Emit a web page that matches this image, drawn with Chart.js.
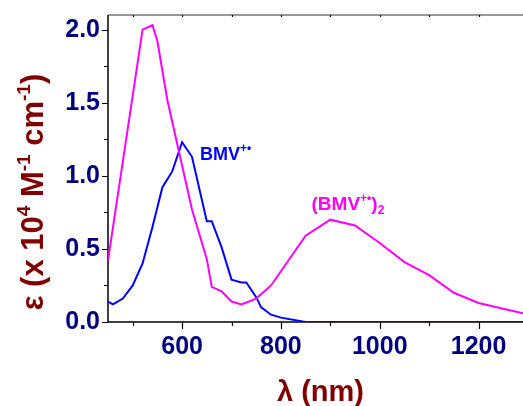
<!DOCTYPE html>
<html>
<head>
<meta charset="utf-8">
<script src="https://cdn.jsdelivr.net/npm/chart.js@4/dist/chart.umd.min.js"></script>
<style>
html,body{margin:0;padding:0;background:#fff;}
canvas{display:block;}
</style>
</head>
<body>
<canvas id="c" width="523" height="406"></canvas>
<script>
// ---- data ----
const monomerWavelength = [450,460,480,500,520,540,560,580,600,620,650,660,680,700,720,730,750,760,780,800,850,1290];
const monomerEps        = [0.14,0.12,0.16,0.25,0.40,0.65,0.92,1.03,1.23,1.13,0.69,0.69,0.51,0.29,0.27,0.27,0.17,0.10,0.05,0.03,0.0,0.0];
const dimerWavelength   = [450,520,540,550,570,620,650,660,680,700,720,750,780,850,900,950,1000,1050,1100,1150,1200,1250,1290];
const dimerEps          = [0.42,2.00,2.03,1.92,1.52,0.77,0.43,0.24,0.21,0.14,0.12,0.16,0.25,0.59,0.70,0.66,0.54,0.41,0.32,0.20,0.13,0.09,0.06];
const xTickLabels = [600,800,1000,1200];
const xMinorTicks = [500,700,900,1100];
const yTickLabels = [0,0.5,1.0,1.5,2.0];
const yMinorTicks = [0.25,0.75,1.25,1.75];
const xRange = [450,1290];
const yRange = [0,2.1];

const MAGENTA = '#ff00ff', BLUE = '#0000ff', NAVY = '#000080', DARKRED = '#800000';
const FONT = '"Liberation Sans", Arial, sans-serif';

function pts(xs, ys){ return xs.map((x,i)=>({x:x, y:ys[i]})); }

function drawRich(ctx, segs, x, y){
  let cx = x;
  for (const s of segs){
    ctx.font = 'bold ' + s.size + 'px ' + FONT;
    ctx.fillText(s.t, cx, y + (s.dy||0));
    cx += ctx.measureText(s.t).width;
  }
  return cx - x;
}
function richWidth(ctx, segs){
  let w = 0;
  for (const s of segs){ ctx.font = 'bold ' + s.size + 'px ' + FONT; w += ctx.measureText(s.t).width; }
  return w;
}

const axesPlugin = {
  id: 'axesPlugin',
  beforeDatasetsDraw(chart){
    const ctx = chart.ctx, a = chart.chartArea, xs = chart.scales.x, ys = chart.scales.y;
    ctx.save();
    ctx.strokeStyle = '#000'; ctx.lineWidth = 1.5;
    ctx.beginPath();
    ctx.moveTo(a.left, a.top); ctx.lineTo(a.left, a.bottom); ctx.lineTo(a.right, a.bottom);
    ctx.stroke();
    ctx.strokeStyle = '#333'; ctx.lineWidth = 1.2;
    ctx.beginPath(); ctx.moveTo(a.left, a.top); ctx.lineTo(a.right, a.top); ctx.stroke();
    ctx.lineWidth = 1.2; ctx.strokeStyle = '#000';
    ctx.beginPath();
    xTickLabels.forEach(v=>{ const p = Math.round(xs.getPixelForValue(v))+0.5; ctx.moveTo(p,a.bottom); ctx.lineTo(p,a.bottom+7); ctx.moveTo(p,a.top); ctx.lineTo(p,a.top+2);});
    xMinorTicks.forEach(v=>{ const p = Math.round(xs.getPixelForValue(v))+0.5; ctx.moveTo(p,a.bottom); ctx.lineTo(p,a.bottom+4); ctx.moveTo(p,a.top); ctx.lineTo(p,a.top+2);});
    yTickLabels.forEach(v=>{ const p = Math.round(ys.getPixelForValue(v))+0.5; ctx.moveTo(a.left,p); ctx.lineTo(a.left-6,p);});
    yMinorTicks.forEach(v=>{ const p = Math.round(ys.getPixelForValue(v))+0.5; ctx.moveTo(a.left,p); ctx.lineTo(a.left-4,p);});
    ctx.stroke();
    ctx.restore();
  },
  afterDraw(chart){
    const ctx = chart.ctx, a = chart.chartArea, xs = chart.scales.x, ys = chart.scales.y;
    ctx.save();
    ctx.textBaseline = 'alphabetic';
    // series labels
    ctx.fillStyle = BLUE;
    drawRich(ctx, [{t:'BMV', size:18},{t:'+•', size:12, dy:-8}], xs.getPixelForValue(636), ys.getPixelForValue(1.11));
    ctx.fillStyle = MAGENTA;
    drawRich(ctx, [{t:'(BMV', size:19},{t:'+•', size:12, dy:-8},{t:')', size:19},{t:'2', size:12, dy:4}], xs.getPixelForValue(862), ys.getPixelForValue(0.767));
    // x title
    ctx.fillStyle = DARKRED;
    const xt = [{t:'λ (nm)', size:29}];
    const xw = richWidth(ctx, xt);
    drawRich(ctx, xt, (a.left + a.right)/2 - xw/2 + 5, 401);
    // y title
    const yt = [{t:'ε (x 10', size:31},{t:'4', size:19, dy:-13},{t:' M', size:31},{t:'-1', size:19, dy:-13},{t:' cm', size:31},{t:'-1', size:19, dy:-13},{t:')', size:31}];
    const yw = richWidth(ctx, yt);
    ctx.translate(43, 192);
    ctx.rotate(-Math.PI/2);
    drawRich(ctx, yt, -yw/2, 0);
    ctx.restore();
  }
};

new Chart(document.getElementById('c'), {
  type: 'line',
  data: {
    datasets: [
      { label: '(BMV+•)2', data: pts(dimerWavelength, dimerEps), borderColor: MAGENTA, borderWidth: 2, pointRadius: 0, tension: 0, fill: false },
      { label: 'BMV+•', data: pts(monomerWavelength, monomerEps), borderColor: BLUE, borderWidth: 2, pointRadius: 0, tension: 0, fill: false }
    ]
  },
  options: {
    responsive: false,
    devicePixelRatio: 1,
    animation: false,
    layout: { padding: { top: 15, right: 0, bottom: 0, left: 0 } },
    plugins: { legend: { display: false }, tooltip: { enabled: false } },
    scales: {
      x: {
        type: 'linear', min: xRange[0], max: xRange[1],
        grid: { display: false, drawTicks: false }, border: { display: false },
        afterBuildTicks: s => { s.ticks = xTickLabels.map(v => ({ value: v })); },
        afterFit: s => { s.height = 84; s.paddingLeft = 0; s.paddingRight = 0; },
        ticks: { color: NAVY, font: { family: FONT, size: 25, weight: 'bold' }, padding: 10, maxRotation: 0, callback: v => String(v) }
      },
      y: {
        type: 'linear', min: yRange[0], max: yRange[1],
        grid: { display: false, drawTicks: false }, border: { display: false },
        afterBuildTicks: s => { s.ticks = yTickLabels.map(v => ({ value: v })); },
        afterFit: s => { s.width = 108; s.paddingTop = 0; s.paddingBottom = 0; },
        ticks: { color: NAVY, font: { family: FONT, size: 25, weight: 'bold' }, padding: 8, callback: v => Number(v).toFixed(1) }
      }
    }
  },
  plugins: [axesPlugin]
});
</script>
</body>
</html>
